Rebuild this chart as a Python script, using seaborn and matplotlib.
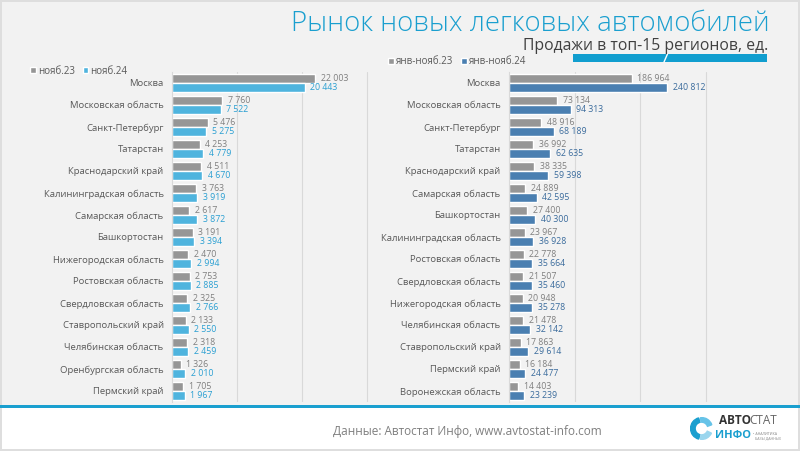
import matplotlib
matplotlib.use("Agg")
import matplotlib.pyplot as plt
from matplotlib.patches import Rectangle, Wedge
from matplotlib.lines import Line2D
import pandas as pd
import seaborn as sns

# ---------------- data ----------------
regions_nov = ["Москва", "Московская область", "Санкт-Петербург", "Татарстан",
               "Краснодарский край", "Калининградская область", "Самарская область",
               "Башкортостан", "Нижегородская область", "Ростовская область",
               "Свердловская область", "Ставропольский край", "Челябинская область",
               "Оренбургская область", "Пермский край"]
nov23 = [22003, 7760, 5476, 4253, 4511, 3763, 2617, 3191, 2470, 2753, 2325, 2133, 2318, 1326, 1705]
nov24 = [20443, 7522, 5275, 4779, 4670, 3919, 3872, 3394, 2994, 2885, 2766, 2550, 2459, 2010, 1967]

regions_ytd = ["Москва", "Московская область", "Санкт-Петербург", "Татарстан",
               "Краснодарский край", "Самарская область", "Башкортостан",
               "Калининградская область", "Ростовская область", "Свердловская область",
               "Нижегородская область", "Челябинская область", "Ставропольский край",
               "Пермский край", "Воронежская область"]
ytd23 = [186964, 73134, 48916, 36992, 38335, 24889, 27400, 23967, 22778, 21507, 20948, 21478, 17863, 16184, 14403]
ytd24 = [240812, 94313, 68189, 62635, 59398, 42595, 40300, 36928, 35664, 35460, 35278, 32142, 29614, 24477, 23239]

series_nov = ["нояб.23", "нояб.24"]
series_ytd = ["янв-нояб.23", "янв-нояб.24"]

title = "Рынок новых легковых автомобилей"
subtitle = "Продажи в топ-15 регионов, ед."
source = "Данные: Автостат Инфо, www.avtostat-info.com"

# ---------------- style ----------------
sns.set_style("white")
plt.rcParams["font.family"] = ["Open Sans", "DejaVu Sans"]

GRAY = "#969696"
BLUE_L = "#4fb4de"
BLUE_R = "#4a7fb1"
GRAY_T = "#7f7f7f"
BLUE_LT = "#2a9fd2"
BLUE_RT = "#3a6b9c"
TXT = "#595959"
ACCENT = "#1a9fcf"

W, H = 800, 451
fig = plt.figure(figsize=(8, 4.51), dpi=100)
fig.patch.set_facecolor("#dedede")


def fx(px):
    return px / W


def fy(py):
    return 1 - py / H


def rect(x0, y0, x1, y1, color, z=0):
    fig.add_artist(Rectangle((fx(x0), fy(y1)), fx(x1) - fx(x0), fy(y0) - fy(y1),
                             transform=fig.transFigure, facecolor=color,
                             edgecolor="none", zorder=z))


rect(2, 2, 798, 406, "#f2f2f2", -5)
rect(2, 408, 798, 449, "#ffffff", -5)
rect(0, 405, 800, 408, ACCENT, -4)


def fmt(v):
    return f"{v:,}".replace(",", " ")


def panel(x0px, xmax, px_per_unit, regions, a, b, names, colors, tcolors, leg_xy):
    width_px = xmax * px_per_unit
    top, bottom = 72, 402
    ax = fig.add_axes([fx(x0px), fy(bottom), width_px / W, (bottom - top) / H])
    ax.set_facecolor("none")
    df = pd.DataFrame({
        "region": regions * 2,
        "value": a + b,
        "period": [names[0]] * len(regions) + [names[1]] * len(regions),
    })
    sns.barplot(data=df, y="region", x="value", hue="period", order=regions,
                hue_order=names, palette=colors, orient="h", ax=ax,
                width=0.8, saturation=1, legend=True, errorbar=None)
    ax.set_xlim(0, xmax)
    ax.set_ylim(len(regions) - 0.5, -0.5)
    ax.set_xlabel("")
    ax.set_ylabel("")
    ax.set_xticks([])
    step = 10000 if xmax < 100000 else 100000
    for g in range(step, xmax, step):
        ax.axvline(g, color="#d9d9d9", lw=0.8, zorder=0)
    for s in ["top", "right", "bottom"]:
        ax.spines[s].set_visible(False)
    ax.spines["left"].set_color("#d9d9d9")
    ax.spines["left"].set_linewidth(0.8)
    ax.tick_params(axis="y", length=0, pad=6, labelsize=6.8, labelcolor=TXT)
    for cont, vals, tc, wt in zip(ax.containers, [a, b], tcolors, ["normal", "medium"]):
        ax.bar_label(cont, labels=[fmt(v) for v in vals], padding=4,
                     fontsize=6.3, color=tc, fontweight=wt)
    handles, labels = ax.get_legend_handles_labels()
    ax.legend(handles, labels, loc="center left", bbox_to_anchor=leg_xy,
              bbox_transform=fig.transFigure, ncol=2, frameon=False, fontsize=7,
              handlelength=0.6, handleheight=0.6, handletextpad=0.2,
              columnspacing=0.8, borderpad=0, borderaxespad=0, labelcolor=TXT)
    return ax


panel(172, 35000, 0.0065, regions_nov, nov23, nov24, series_nov,
      [GRAY, BLUE_L], [GRAY_T, BLUE_LT], (fx(30), fy(71)))
panel(509, 360000, 0.000656, regions_ytd, ytd23, ytd24, series_ytd,
      [GRAY, BLUE_R], [GRAY_T, BLUE_RT], (fx(388), fy(62)))

# ---------------- titles ----------------
fig.text(fx(770), fy(24), title, ha="right", va="center", fontsize=19.8,
         color=ACCENT, fontweight="light")
fig.text(fx(768), fy(46), subtitle, ha="right", va="center", fontsize=11.3,
         color="#404040")
rect(573, 54, 767, 62, "#119ecf", 1)
fig.add_artist(Line2D([fx(664), fx(667.5)], [fy(62), fy(54)], transform=fig.transFigure,
                      color="white", lw=1, zorder=2))

# ---------------- footer ----------------
fig.text(fx(467), fy(431), source, ha="center", va="center", fontsize=8.5,
         color="#7f7f7f")

lax = fig.add_axes([fx(690), fy(440), 23 / W, 23 / H])
lax.set_xlim(-1.05, 1.05)
lax.set_ylim(-1.05, 1.05)
lax.set_aspect("equal")
lax.axis("off")
lax.add_patch(Wedge((0, 0), 1, 105, 255, width=0.42, color="#1a9fcf"))
lax.add_patch(Wedge((0, 0), 1, 20, 95, width=0.42, color="#66c3e8"))
lax.add_patch(Wedge((0, 0), 1, 265, 335, width=0.42, color="#9ad6ee"))

fig.text(fx(719), fy(420), "АВТО", ha="left", va="center", fontsize=8.5,
         fontweight="bold", color="#333333")
fig.text(fx(749), fy(420), "СТАТ", ha="left", va="center", fontsize=8.5,
         color="#666666")
fig.text(fx(715), fy(436), "ИНФО", ha="left", va="center", fontsize=8,
         fontweight="bold", color=ACCENT)
fig.text(fx(753), fy(436), "• АНАЛИТИКА\n  БАЗЫ ДАННЫХ", ha="left", va="center",
         fontsize=2.6, color="#888888", linespacing=1.2)

fig.savefig("out.png", dpi=100, facecolor=fig.get_facecolor())
